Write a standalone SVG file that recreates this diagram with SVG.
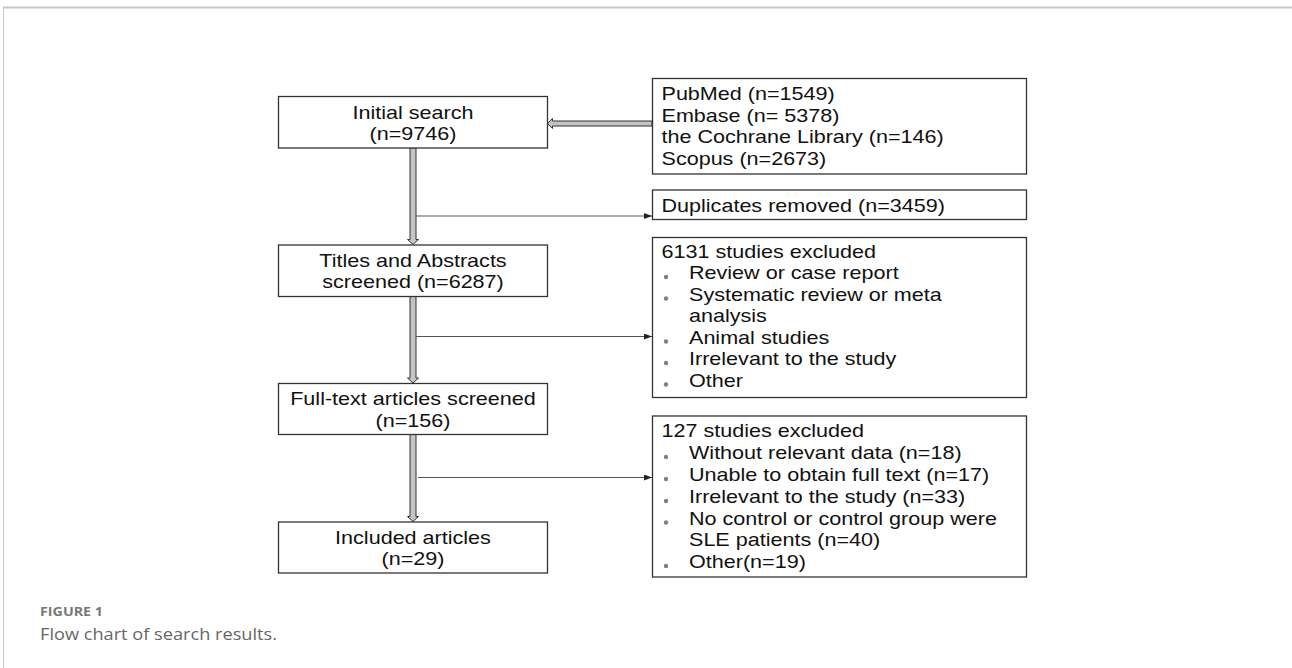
<svg xmlns="http://www.w3.org/2000/svg" width="1292" height="668" viewBox="0 0 1292 668">
<defs>
<style>
.box{fill:#fff;stroke:#333;stroke-width:1.3}
.t{font-family:"Liberation Sans",Arial,sans-serif;font-size:18.6px;fill:#111}
.m{text-anchor:middle}
.dbl{fill:#c4c4c4;stroke:#333;stroke-width:1}
.thin{stroke:#555;stroke-width:1;fill:none;marker-end:url(#ah)}
.bul{fill:#808080}
.frame{stroke:#c8c8c8;fill:none}
</style>
<marker id="ah" viewBox="0 0 8 6" refX="8" refY="3" markerWidth="8" markerHeight="6" markerUnits="userSpaceOnUse" orient="auto">
<path d="M0,0 L8,3 L0,6 Z" fill="#222"/>
</marker>
</defs>
<rect width="1292" height="668" fill="#fff"/>
<line class="frame" x1="3" y1="7.5" x2="1292" y2="7.5" stroke-width="2"/>
<line class="frame" x1="3.5" y1="7" x2="3.5" y2="668" stroke-width="1"/>

<g id="connectors">
<path class="dbl" d="M410,148 V239.5 H407.5 L413,244.5 L418.5,239.5 H416 V148 Z"/>
<path class="dbl" d="M410,296.5 V378 H407.5 L413,383 L418.5,378 H416 V296.5 Z"/>
<path class="dbl" d="M410,434.5 V516.5 H407.5 L413,521.5 L418.5,516.5 H416 V434.5 Z"/>
<path class="dbl" d="M652,121 H552.5 V118.5 L547.5,123.5 L552.5,128.5 V126 H652 Z"/>
<line class="thin" x1="416" y1="216" x2="652" y2="216"/>
<line class="thin" x1="416" y1="336.5" x2="652" y2="336.5"/>
<line class="thin" x1="418" y1="477.5" x2="652" y2="477.5"/>
</g>

<g id="initial">
<rect class="box" x="278.5" y="96.5" width="269" height="51.5"/>
<text class="t m" transform="translate(413,118.5) scale(1.16,1)">Initial search</text>
<text class="t m" transform="translate(413,139.5) scale(1.16,1)">(n=9746)</text>
</g>
<g id="titles">
<rect class="box" x="278.5" y="245" width="269" height="51.5"/>
<text class="t m" transform="translate(413,266.7) scale(1.16,1)">Titles and Abstracts</text>
<text class="t m" transform="translate(413,288.3) scale(1.16,1)">screened (n=6287)</text>
</g>
<g id="fulltext">
<rect class="box" x="278.5" y="383.5" width="269" height="51"/>
<text class="t m" transform="translate(413,405) scale(1.16,1)">Full-text articles screened</text>
<text class="t m" transform="translate(413,426.7) scale(1.16,1)">(n=156)</text>
</g>
<g id="included">
<rect class="box" x="278.5" y="522" width="269" height="51"/>
<text class="t m" transform="translate(413,543.5) scale(1.16,1)">Included articles</text>
<text class="t m" transform="translate(413,564.5) scale(1.16,1)">(n=29)</text>
</g>

<g id="sources">
<rect class="box" x="652.5" y="78.5" width="374" height="95.5"/>
<text class="t" transform="translate(661.5,100) scale(1.16,1)">PubMed (n=1549)</text>
<text class="t" transform="translate(661.5,121.5) scale(1.16,1)">Embase (n= 5378)</text>
<text class="t" transform="translate(661.5,143) scale(1.16,1)">the Cochrane Library (n=146)</text>
<text class="t" transform="translate(661.5,164.5) scale(1.16,1)">Scopus (n=2673)</text>
</g>
<g id="duplicates">
<rect class="box" x="652.5" y="190" width="374" height="29.5"/>
<text class="t" transform="translate(661.5,211.5) scale(1.16,1)">Duplicates removed (n=3459)</text>
</g>
<g id="excluded1">
<rect class="box" x="652.5" y="237.5" width="374" height="160"/>
<text class="t" transform="translate(661.5,257.5) scale(1.16,1)">6131 studies excluded</text>
<circle class="bul" cx="666" cy="277" r="2.2"/>
<text class="t" transform="translate(689,279) scale(1.16,1)">Review or case report</text>
<circle class="bul" cx="666" cy="298.5" r="2.2"/>
<text class="t" transform="translate(689,300.5) scale(1.16,1)">Systematic review or meta</text>
<text class="t" transform="translate(689,322) scale(1.16,1)">analysis</text>
<circle class="bul" cx="666" cy="341.5" r="2.2"/>
<text class="t" transform="translate(689,343.5) scale(1.16,1)">Animal studies</text>
<circle class="bul" cx="666" cy="363" r="2.2"/>
<text class="t" transform="translate(689,365) scale(1.16,1)">Irrelevant to the study</text>
<circle class="bul" cx="666" cy="384.5" r="2.2"/>
<text class="t" transform="translate(689,386.5) scale(1.16,1)">Other</text>
</g>
<g id="excluded2">
<rect class="box" x="652.5" y="416" width="374" height="161"/>
<text class="t" transform="translate(661.5,437.3) scale(1.16,1)">127 studies excluded</text>
<circle class="bul" cx="666" cy="457" r="2.2"/>
<text class="t" transform="translate(689,459) scale(1.16,1)">Without relevant data (n=18)</text>
<circle class="bul" cx="666" cy="479" r="2.2"/>
<text class="t" transform="translate(689,481) scale(1.16,1)">Unable to obtain full text (n=17)</text>
<circle class="bul" cx="666" cy="501" r="2.2"/>
<text class="t" transform="translate(689,503) scale(1.16,1)">Irrelevant to the study (n=33)</text>
<circle class="bul" cx="666" cy="522.5" r="2.2"/>
<text class="t" transform="translate(689,524.5) scale(1.16,1)">No control or control group were</text>
<text class="t" transform="translate(689,546.3) scale(1.16,1)">SLE patients (n=40)</text>
<circle class="bul" cx="666" cy="566" r="2.2"/>
<text class="t" transform="translate(689,568) scale(1.16,1)">Other(n=19)</text>
</g>

<g id="caption">
<text x="40" y="615.5" font-family="'Open Sans','Liberation Sans',sans-serif" font-size="12.5" font-weight="bold" fill="#777" textLength="63" lengthAdjust="spacingAndGlyphs">FIGURE 1</text>
<text x="40" y="640" font-family="'Open Sans','Liberation Sans',sans-serif" font-size="17" fill="#666" textLength="237" lengthAdjust="spacingAndGlyphs">Flow chart of search results.</text>
</g>
</svg>
